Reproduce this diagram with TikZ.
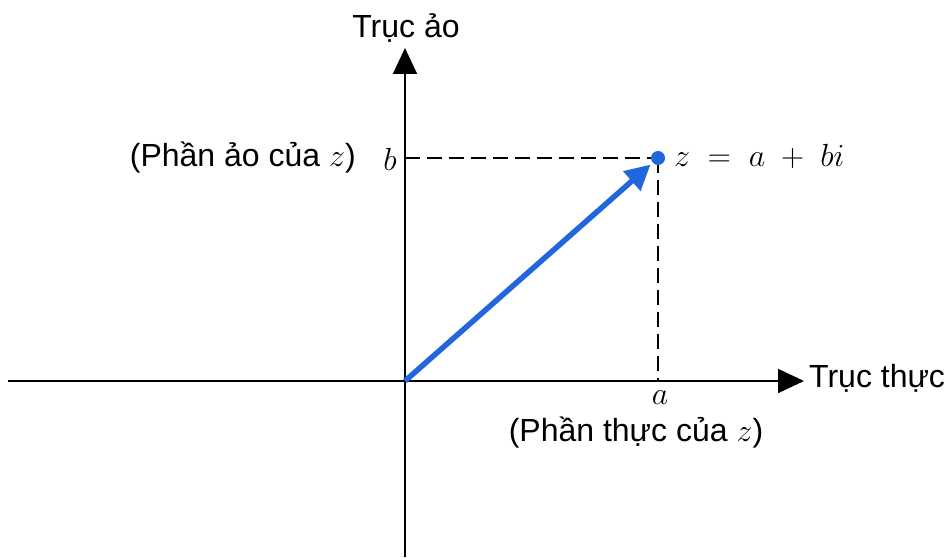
\RequirePackage{fix-cm}
\documentclass[tikz,border=0pt]{standalone}
\usepackage{fontspec}
\setmainfont{Liberation Sans}
\usetikzlibrary{arrows.meta}
\definecolor{vecblue}{RGB}{34,102,221}
\tikzset{
  axis/.style={line width=1.8pt,-{Triangle[length=26pt,width=24pt]}},
  guide/.style={line width=1.1pt,dash pattern=on 15pt off 7pt},
  lbl/.style={font=\fontsize{32}{38}\selectfont,inner sep=0pt},
  vec/.style={line width=5.5pt,vecblue,-{Triangle[length=25pt,width=25pt]},shorten >=10pt}
}
\begin{document}
\begin{tikzpicture}[x=1pt,y=1pt]
\useasboundingbox (0,0) rectangle (952,557);
\coordinate (O) at (405,176);
\coordinate (ybot) at (405,0);
\coordinate (ytop) at (405,509);
\coordinate (xleft) at (8,176);
\coordinate (xright) at (804,176);
\coordinate (Bp) at (405,399);
\coordinate (Ap) at (658,176);
\draw[axis] (ybot) -- (ytop);
\draw[axis] (xleft) -- (xright);
\draw[guide] (Bp) -- (658,399);
\draw[guide] (658,399) -- (Ap);
\draw[vec] (O) -- (658,399);
\fill[vecblue] (658,399) circle (7pt) coordinate (Z);
\node[lbl] (ylab) at (406,529) {Trục ảo};
\node[lbl,anchor=west] (xlab) at (809,179) {Trục thực};
\node[lbl,anchor=east] (blab) at (397,398) {$b$};
\node[lbl,anchor=east] (bdesc) at (356,399) {(Phần ảo của $z$)};
\node[lbl,anchor=west] (zlab) at (674,401) {$z\;=\;a\;+\;bi$};
\node[lbl] (alab) at (660,159) {$a$};
\node[lbl] (adesc) at (636,124) {(Phần thực của $z$)};
\end{tikzpicture}
\end{document}
